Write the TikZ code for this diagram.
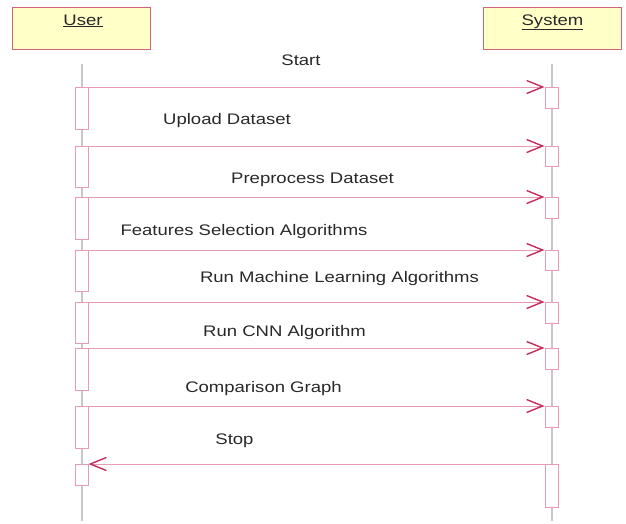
\documentclass[tikz,border=0pt]{standalone}
\usepackage{fontspec}
\setmainfont[FakeStretch=1.21]{Liberation Sans}
\usetikzlibrary{arrows.meta}
\definecolor{hdrfill}{RGB}{255,255,200}
\definecolor{hdrdraw}{RGB}{210,100,120}
\definecolor{msgline}{RGB}{230,155,178}
\definecolor{tipcol}{RGB}{195,45,90}
\definecolor{lifecol}{RGB}{200,200,200}
\definecolor{txtcol}{RGB}{40,40,40}
\tikzset{
  hdr/.style={draw=hdrdraw, fill=hdrfill, line width=1pt, rectangle, minimum width=138pt, minimum height=42pt, inner sep=0pt},
  act/.style={draw=msgline, fill=white, line width=1pt, rectangle, minimum width=13pt, inner sep=0pt, anchor=north},
  life/.style={draw=lifecol, line width=1.5pt},
  msg/.style={draw=msgline, line width=1pt, -{Straight Barb[length=16pt,width=13pt,line width=1.4pt,color=tipcol]}},
  lbl/.style={anchor=base, inner sep=0pt, text=txtcol, font=\fontsize{15.3}{18}\selectfont},
}
\begin{document}
\begin{tikzpicture}[x=1pt,y=-1pt]
\useasboundingbox (0,0) rectangle (626,523);
% headers
\node[hdr] (user) at (81,28) {};
\node[hdr] (sys) at (552.5,28) {};
\node[lbl] (userlbl) at (83,25) {\underline{User}};
\node[lbl] (syslbl) at (552.5,25) {\underline{System}};
% lifelines
\coordinate (ut) at (82,64);
\coordinate (ub) at (82,521);
\coordinate (st) at (552,64);
\coordinate (sb) at (552,521);
\draw[life] (ut) -- (ub);
\draw[life] (st) -- (sb);
% user activations
\node[act, minimum height=42pt] (u1) at (81.5,87) {};
\node[act, minimum height=41pt] (u2) at (81.5,146) {};
\node[act, minimum height=42pt] (u3) at (81.5,197) {};
\node[act, minimum height=41pt] (u4) at (81.5,250) {};
\node[act, minimum height=41pt] (u5) at (81.5,302) {};
\node[act, minimum height=42pt] (u6) at (81.5,348) {};
\node[act, minimum height=42pt] (u7) at (81.5,406) {};
\node[act, minimum height=21pt] (u8) at (81.5,464) {};
% system activations
\node[act, minimum height=21pt] (s1) at (551.5,87) {};
\node[act, minimum height=20pt] (s2) at (551.5,146) {};
\node[act, minimum height=21pt] (s3) at (551.5,197) {};
\node[act, minimum height=20pt] (s4) at (551.5,250) {};
\node[act, minimum height=21pt] (s5) at (551.5,302) {};
\node[act, minimum height=21pt] (s6) at (551.5,348) {};
\node[act, minimum height=21pt] (s7) at (551.5,406) {};
\node[act, minimum height=43pt] (s8) at (551.5,464) {};
% messages
\draw[msg] (u1.north east) -- (s1.north west);
\draw[msg] (u2.north east) -- (s2.north west);
\draw[msg] (u3.north east) -- (s3.north west);
\draw[msg] (u4.north east) -- (s4.north west);
\draw[msg] (u5.north east) -- (s5.north west);
\draw[msg] (u6.north east) -- (s6.north west);
\draw[msg] (u7.north east) -- (s7.north west);
\draw[msg] (s8.north west) -- (u8.north east);
% labels
\node[lbl] (l1) at (301,65.7) {Start};
\node[lbl] (l2) at (227,124.3) {Upload Dataset};
\node[lbl] (l3) at (312.5,183.3) {Preprocess Dataset};
\node[lbl] (l4) at (244,235) {Features Selection Algorithms};
\node[lbl] (l5) at (339.5,282) {Run Machine Learning Algorithms};
\node[lbl] (l6) at (284.5,336) {Run CNN Algorithm};
\node[lbl] (l7) at (263.5,392) {Comparison Graph};
\node[lbl] (l8) at (234.5,444) {Stop};
\end{tikzpicture}
\end{document}
